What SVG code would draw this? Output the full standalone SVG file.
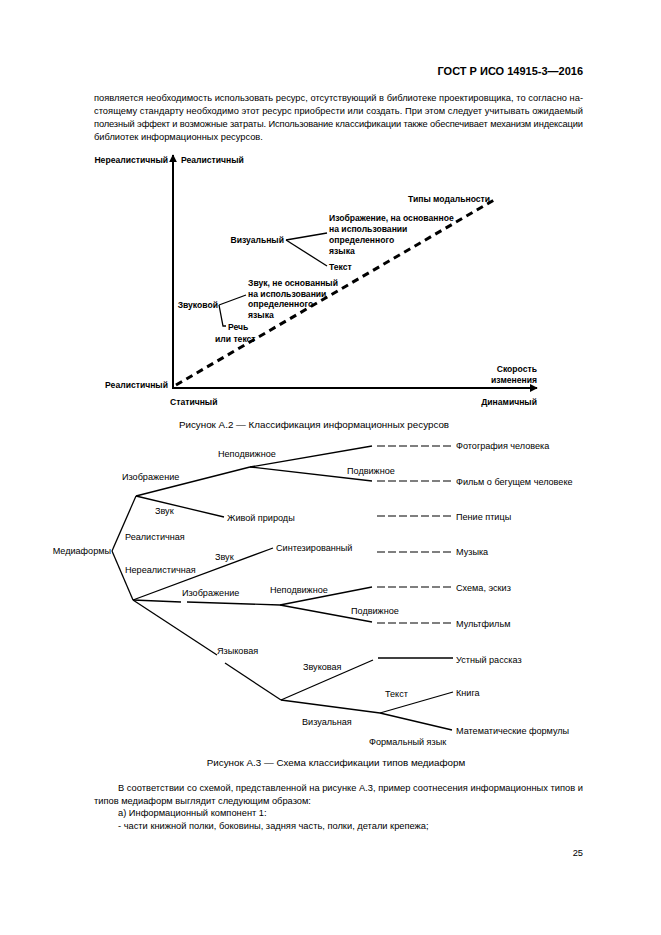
<svg xmlns="http://www.w3.org/2000/svg" width="661" height="935" viewBox="0 0 661 935">
<style>
text{font-family:"Liberation Sans",Arial,sans-serif;fill:#000}
.hdr{font-size:11px;font-weight:bold}
.p{font-size:9.3px}
.cap{font-size:9.8px}
.a2{font-size:8.6px;font-weight:bold}
.a3{font-size:9.1px}
.ln{stroke:#000;stroke-width:1.3;fill:none}
.ax{stroke:#000;stroke-width:2;fill:none}
.dd{stroke:#000;stroke-width:3;fill:none;stroke-dasharray:7 5}
.dl{stroke:#000;stroke-width:1.1;fill:none;stroke-dasharray:8 3}
</style>
<defs>
<marker id="arr" viewBox="0 0 10 10" refX="9" refY="5" markerWidth="4" markerHeight="4" orient="auto"><path d="M0,0 L10,5 L0,10 z" fill="#000"/></marker>
</defs>
<rect width="661" height="935" fill="#fff"/>

<text class="hdr" x="583" y="75" text-anchor="end">ГОСТ Р ИСО 14915-3—2016</text>
<g id="para1">
<text class="p" x="94" y="101" textLength="489" lengthAdjust="spacing">появляется необходимость использовать ресурс, отсутствующий в библиотеке проектировщика, то согласно на-</text>
<text class="p" x="94" y="114" textLength="489" lengthAdjust="spacing">стоящему стандарту необходимо этот ресурс приобрести или создать. При этом следует учитывать ожидаемый</text>
<text class="p" x="94" y="127" textLength="489" lengthAdjust="spacing">полезный эффект и возможные затраты. Использование классификации также обеспечивает механизм индексации</text>
<text class="p" x="94" y="140">библиотек информационных ресурсов.</text>
</g>

<!-- Figure A.2 -->
<g id="connectors-a2">
<line class="ax" x1="173" y1="389" x2="173" y2="155" marker-end="url(#arr)"/>
<line class="ax" x1="172" y1="388" x2="537" y2="388" marker-end="url(#arr)"/>
<line class="dd" x1="176" y1="385" x2="494" y2="200"/>
<line class="ln" x1="286" y1="240" x2="327" y2="233"/>
<line class="ln" x1="286" y1="240" x2="327" y2="266"/>
<line class="ln" x1="219" y1="305" x2="246" y2="295"/>
<polyline class="ln" points="219,305 223,326 226,326"/>
</g>
<g id="n-unreal"><text class="a2" x="168" y="163" text-anchor="end">Нереалистичный</text></g>
<g id="n-real-top"><text class="a2" x="181" y="163">Реалистичный</text></g>
<g id="n-modality"><text class="a2" x="408" y="202">Типы модальности</text></g>
<g id="n-visual"><text class="a2" x="284" y="243" text-anchor="end">Визуальный</text></g>
<g id="n-image-lang">
<text class="a2" x="329" y="221">Изображение, на основанное</text>
<text class="a2" x="329" y="232">на использовании</text>
<text class="a2" x="329" y="243">определенного</text>
<text class="a2" x="329" y="254">языка</text>
</g>
<g id="n-text"><text class="a2" x="329" y="270">Текст</text></g>
<g id="n-sound-lang">
<text class="a2" x="248" y="286">Звук, не основанный</text>
<text class="a2" x="248" y="297">на использовании</text>
<text class="a2" x="248" y="307">определенного</text>
<text class="a2" x="248" y="318">языка</text>
</g>
<g id="n-sound"><text class="a2" x="218" y="308" text-anchor="end">Звуковой</text></g>
<g id="n-speech"><text class="a2" x="228" y="330">Речь</text><text class="a2" x="215" y="342">или текст</text></g>
<g id="n-real-bottom"><text class="a2" x="168" y="388" text-anchor="end">Реалистичный</text></g>
<g id="n-static"><text class="a2" x="170" y="405">Статичный</text></g>
<g id="n-speed"><text class="a2" x="537" y="372" text-anchor="end">Скорость</text><text class="a2" x="537" y="383" text-anchor="end">изменения</text></g>
<g id="n-dynamic"><text class="a2" x="537" y="405" text-anchor="end">Динамичный</text></g>
<text class="cap" x="314" y="428" text-anchor="middle">Рисунок А.2 — Классификация информационных ресурсов</text>

<!-- Figure A.3 -->
<g id="connectors-a3">
<line class="ln" x1="112" y1="551" x2="136" y2="496"/>
<line class="ln" x1="112" y1="551" x2="133" y2="600"/>
<line class="ln" x1="136" y1="496" x2="250" y2="467"/>
<line class="ln" x1="136" y1="496" x2="224" y2="517"/>
<line class="ln" x1="250" y1="467" x2="372" y2="446"/>
<line class="ln" x1="250" y1="467" x2="372" y2="481"/>
<line class="dl" x1="377" y1="446" x2="454" y2="446"/>
<line class="dl" x1="377" y1="481" x2="454" y2="481"/>
<line class="dl" x1="377" y1="516" x2="454" y2="516"/>
<line class="dl" x1="377" y1="552" x2="454" y2="552"/>
<line class="ln" x1="133" y1="600" x2="273" y2="548"/>
<line class="ln" x1="133" y1="600" x2="181" y2="602"/>
<line class="ln" x1="187" y1="602" x2="280" y2="605"/>
<line class="ln" x1="280" y1="605" x2="372" y2="587"/>
<line class="ln" x1="280" y1="605" x2="372" y2="622"/>
<line class="dl" x1="377" y1="587" x2="454" y2="587"/>
<line class="dl" x1="377" y1="623" x2="454" y2="623"/>
<line class="ln" x1="133" y1="600" x2="217" y2="655"/>
<line class="ln" x1="225" y1="663" x2="281" y2="700"/>
<line class="ln" x1="281" y1="700" x2="373" y2="660"/>
<line class="ln" x1="378" y1="658" x2="453" y2="658"/>
<line class="ln" x1="281" y1="700" x2="380" y2="713"/>
<line class="ln" x1="380" y1="713" x2="453" y2="692"/>
<line class="ln" x1="380" y1="713" x2="452" y2="730"/>
</g>
<g id="m-root"><text class="a3" x="111" y="554" text-anchor="end">Медиаформы</text></g>
<g id="m-real"><text class="a3" x="125" y="540">Реалистичная</text></g>
<g id="m-unreal"><text class="a3" x="125" y="573">Нереалистичная</text></g>
<g id="m-image1"><text class="a3" x="122" y="480">Изображение</text></g>
<g id="m-still1"><text class="a3" x="218" y="457">Неподвижное</text></g>
<g id="m-moving1"><text class="a3" x="347" y="474">Подвижное</text></g>
<g id="m-photo"><text class="a3" x="456" y="449">Фотография человека</text></g>
<g id="m-film"><text class="a3" x="456" y="485">Фильм о бегущем человеке</text></g>
<g id="m-sound1"><text class="a3" x="155" y="514">Звук</text></g>
<g id="m-nature"><text class="a3" x="227" y="521">Живой природы</text></g>
<g id="m-bird"><text class="a3" x="456" y="520">Пение птицы</text></g>
<g id="m-sound2"><text class="a3" x="215" y="560">Звук</text></g>
<g id="m-synth"><text class="a3" x="276" y="551">Синтезированный</text></g>
<g id="m-music"><text class="a3" x="456" y="555">Музыка</text></g>
<g id="m-image2"><text class="a3" x="182" y="596">Изображение</text></g>
<g id="m-still2"><text class="a3" x="270" y="593">Неподвижное</text></g>
<g id="m-scheme"><text class="a3" x="456" y="591">Схема, эскиз</text></g>
<g id="m-moving2"><text class="a3" x="351" y="614">Подвижное</text></g>
<g id="m-cartoon"><text class="a3" x="456" y="627">Мультфильм</text></g>
<g id="m-lang"><text class="a3" x="217" y="654">Языковая</text></g>
<g id="m-audio"><text class="a3" x="303" y="670">Звуковая</text></g>
<g id="m-story"><text class="a3" x="456" y="663">Устный рассказ</text></g>
<g id="m-textlbl"><text class="a3" x="385" y="697">Текст</text></g>
<g id="m-book"><text class="a3" x="456" y="696">Книга</text></g>
<g id="m-visual"><text class="a3" x="302" y="725">Визуальная</text></g>
<g id="m-math"><text class="a3" x="456" y="734">Математические формулы</text></g>
<g id="m-formal"><text class="a3" x="369" y="745">Формальный язык</text></g>
<text class="cap" x="336" y="766" text-anchor="middle">Рисунок А.3 — Схема классификации типов медиаформ</text>

<g id="para2">
<text class="p" x="118" y="791" textLength="465" lengthAdjust="spacing">В соответствии со схемой, представленной на рисунке А.3, пример соотнесения информационных типов и</text>
<text class="p" x="94" y="804">типов медиаформ выглядит следующим образом:</text>
<text class="p" x="118" y="816">а) Информационный компонент 1:</text>
<text class="p" x="118" y="829">- части книжной полки, боковины, задняя часть, полки, детали крепежа;</text>
</g>
<text class="p" x="583" y="856" text-anchor="end">25</text>
</svg>
